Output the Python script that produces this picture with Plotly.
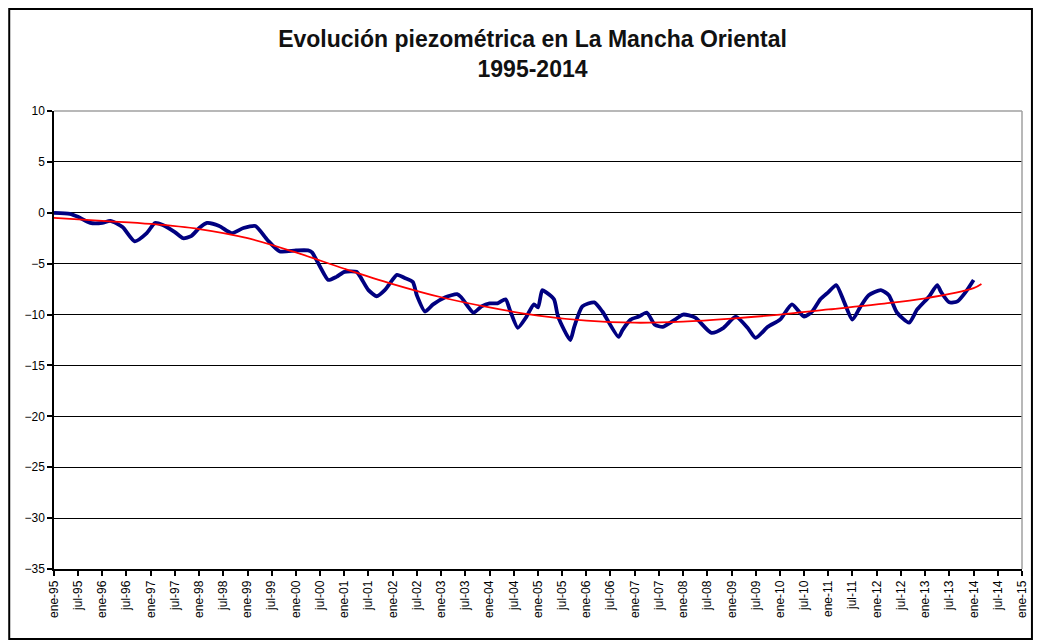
import plotly.graph_objects as go

# ---- data ----
obs_dates = [
    "1995-01", "1995-05", "1995-07", "1995-10", "1996-01", "1996-03", "1996-06", "1996-09",
    "1996-12", "1997-02", "1997-04", "1997-07", "1997-09", "1997-11", "1998-01", "1998-03",
    "1998-06", "1998-09", "1998-12", "1999-03", "1999-06", "1999-09", "2000-01", "2000-04",
    "2000-05", "2000-07", "2000-09", "2000-11", "2001-01", "2001-04", "2001-05", "2001-07",
    "2001-09", "2001-11", "2001-12", "2002-02", "2002-04", "2002-06", "2002-07", "2002-09",
    "2002-11", "2003-02", "2003-05", "2003-06", "2003-09", "2003-11", "2004-01", "2004-03",
    "2004-05", "2004-06", "2004-08", "2004-10", "2004-12", "2005-01", "2005-02", "2005-03",
    "2005-05", "2005-06", "2005-09", "2005-10", "2005-12", "2006-03", "2006-05", "2006-09",
    "2006-10", "2006-12", "2007-02", "2007-04", "2007-06", "2007-08", "2007-11", "2008-01",
    "2008-04", "2008-08", "2008-11", "2009-02", "2009-05", "2009-07", "2009-10", "2010-01",
    "2010-04", "2010-07", "2010-09", "2010-11", "2011-01", "2011-03", "2011-05", "2011-07",
    "2011-09", "2011-11", "2012-02", "2012-04", "2012-06", "2012-09", "2012-11", "2013-02",
    "2013-04", "2013-05", "2013-07", "2013-09", "2013-11", "2014-01",
]
obs_values = [
    0.0, -0.1, -0.4, -1.0, -1.0, -0.8, -1.4, -2.8,
    -2.0, -1.0, -1.2, -1.9, -2.5, -2.3, -1.5, -1.0,
    -1.3, -2.0, -1.5, -1.3, -2.7, -3.8, -3.7, -3.7,
    -3.9, -5.3, -6.6, -6.3, -5.8, -5.8, -6.3, -7.6,
    -8.2, -7.6, -7.1, -6.1, -6.4, -6.8, -8.1, -9.7,
    -9.0, -8.3, -8.0, -8.3, -9.8, -9.2, -8.9, -8.9,
    -8.5, -9.5, -11.3, -10.3, -9.0, -9.3, -7.6, -7.8,
    -8.5, -10.2, -12.5, -11.2, -9.2, -8.8, -9.7, -12.2,
    -11.5, -10.5, -10.2, -9.8, -11.0, -11.2, -10.5, -10.0,
    -10.3, -11.8, -11.3, -10.2, -11.3, -12.3, -11.2, -10.5,
    -9.0, -10.2, -9.7, -8.5, -7.8, -7.1, -8.8, -10.5,
    -9.2, -8.1, -7.6, -8.1, -9.8, -10.8, -9.5, -8.2,
    -7.1, -7.8, -8.8, -8.7, -7.8, -6.6,
]

trend_dates = [
    "1995-01", "1996-01", "1997-01", "1998-01", "1999-01", "2000-01", "2001-01",
    "2002-01", "2003-01", "2004-01", "2005-01", "2006-01", "2007-01", "2008-01",
    "2009-01", "2010-01", "2011-01", "2012-01", "2013-01", "2014-01", "2014-03",
]
trend_values = [
    -0.5, -0.8, -1.1, -1.6, -2.5, -3.9, -5.5,
    -7.0, -8.3, -9.3, -10.1, -10.6, -10.8, -10.7,
    -10.4, -10.0, -9.5, -9.0, -8.4, -7.4, -7.0,
]

tick_years = list(range(1995, 2016))
tick_months = ["ene", "jul"]
y_ticks = [10, 5, 0, -5, -10, -15, -20, -25, -30, -35]

# ---- build ticks ----
tickvals, ticktext = [], []
for yr in tick_years:
    for i, m in enumerate(tick_months):
        if yr == 2015 and i == 1:
            continue
        tickvals.append(f"{yr}-{'01' if i == 0 else '07'}-01")
        ticktext.append(f"{m}-{str(yr)[2:]}")

fig = go.Figure()
fig.add_trace(go.Scatter(
    x=obs_dates, y=obs_values, mode="lines",
    line=dict(color="#000080", width=3.8, shape="spline", smoothing=0.6),
    showlegend=False, hoverinfo="skip",
))
fig.add_trace(go.Scatter(
    x=trend_dates, y=trend_values, mode="lines",
    line=dict(color="#ff0000", width=1.8, shape="spline"),
    showlegend=False, hoverinfo="skip",
))

# page body has an 8px margin: figure origin sits at screen (8, 8)
OFF = 8
W, H = 1033, 634
# plot area on screen: x 54..1027, y 111..569
L, T = 54 - OFF, 111 - OFF
R = W - (1027 - OFF)
B = H - (569 - OFF)
pw, ph = W - L - R, H - T - B

def px_x(sx):
    return (sx - OFF - L) / pw

def px_y(sy):
    return (H - B - (sy - OFF)) / ph

fig.update_layout(
    width=W, height=H,
    margin=dict(l=L, r=R, t=T, b=B),
    paper_bgcolor="white", plot_bgcolor="white",
    font=dict(family="Liberation Sans, Arial", color="black"),
    title=dict(
        text="<b>Evolución piezométrica en La Mancha Oriental<br>1995-2014</b>",
        x=px_x(535), xref="paper", xanchor="center",
        y=1 - (47 - OFF) / H, yref="container", yanchor="middle",
        font=dict(size=23, color="#111111"),
    ),
    xaxis=dict(
        type="date",
        range=["1995-01-01", "2015-01-01"],
        tickmode="array", tickvals=tickvals, ticktext=ticktext,
        tickangle=-90, tickfont=dict(size=12),
        ticks="outside", ticklen=5, tickcolor="black", tickwidth=1.5,
        showgrid=False, showline=True, linecolor="black", linewidth=1.5,
        mirror=False, zeroline=False,
    ),
    yaxis=dict(
        range=[-35, 10],
        tickmode="array", tickvals=y_ticks,
        tickfont=dict(size=12),
        ticks="outside", ticklen=5, tickcolor="black", tickwidth=1.5,
        showgrid=True, gridcolor="black", gridwidth=1.2,
        showline=True, linecolor="black", linewidth=1.5,
        zeroline=False,
    ),
    shapes=[
        # plot area border (top/right, grey)
        dict(type="line", xref="paper", yref="paper", x0=0, x1=1, y0=1, y1=1,
             line=dict(color="#a0a0a0", width=1.5)),
        dict(type="line", xref="paper", yref="paper", x0=1, x1=1, y0=0, y1=1,
             line=dict(color="#a0a0a0", width=1.5)),
        # outer chart frame
        dict(type="rect", xref="paper", yref="paper",
             x0=px_x(9), x1=px_x(1037), y0=px_y(639), y1=px_y(9),
             line=dict(color="black", width=2), fillcolor="rgba(0,0,0,0)", layer="below"),
    ],
)

fig.write_html("out.html")
